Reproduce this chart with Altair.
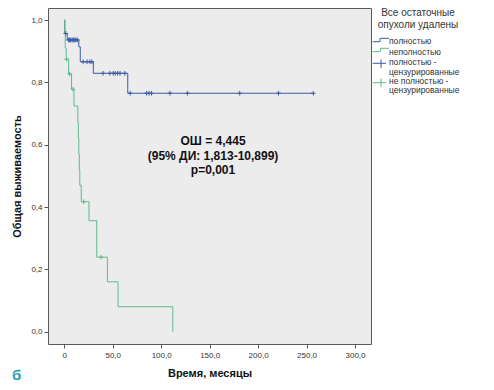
import altair as alt
import pandas as pd

# ---- data ----
groups = ["полностью", "неполностью"]
colors = ["#3b5ca8", "#5cbb8c"]

full_t = [0, 0.5, 3, 15, 16.5, 30, 65.5, 257]
full_s = [1.0, 0.957, 0.936, 0.914, 0.866, 0.829, 0.765, 0.765]

part_t = [0, 0.5, 1, 2, 4.5, 7.5, 10, 14, 14.5, 15, 15.5, 16, 17.5, 25.5, 33.5, 44.5, 55.5, 112]
part_s = [1.0, 0.955, 0.91, 0.874, 0.827, 0.778, 0.724, 0.67, 0.62, 0.57, 0.52, 0.47, 0.417,
          0.356, 0.239, 0.16, 0.08, 0.0]

full_cens_t = [1.5, 4.5, 5.5, 6.5, 8, 9, 10, 11, 12, 13.5,
               19.5, 23.5, 26.5, 28.5,
               40, 47, 50.5, 52.5, 55, 57.5, 62.5,
               68, 85, 87.5, 90, 109, 127, 181, 221, 257]
full_cens_s = [0.957] + [0.936] * 9 + [0.866] * 4 + [0.829] * 7 + [0.765] * 9

part_cens_t = [2.4, 5.5, 9, 20, 38]
part_cens_s = [0.874, 0.827, 0.778, 0.417, 0.239]

x_ticks = [0, 50, 100, 150, 200, 250, 300]
y_ticks = [0, 0.2, 0.4, 0.6, 0.8, 1.0]

ann_lines = ["ОШ = 4,445", "(95% ДИ: 1,813-10,899)", "p=0,001"]
ann_t = 153.5
ann_s = [0.612, 0.564, 0.519]

legend_title = ["Все остаточные", "опухоли удалены"]
legend_labels = ["полностью", "неполностью", "полностью -", "цензурированные",
                 "не полностью -", "цензурированные"]

# ---- tables ----
curves = pd.concat([
    pd.DataFrame({"t": full_t, "s": full_s, "g": groups[0]}),
    pd.DataFrame({"t": part_t, "s": part_s, "g": groups[1]}),
])
cens = pd.concat([
    pd.DataFrame({"t": full_cens_t, "s": full_cens_s, "g": groups[0]}),
    pd.DataFrame({"t": part_cens_t, "s": part_cens_s, "g": groups[1]}),
])
ann = pd.DataFrame({"t": [ann_t] * 3, "s": ann_s, "txt": ann_lines})

FONT = "Liberation Sans"
W, H = 323, 336

xs = alt.Scale(domain=[-16.8, 316.5], nice=False, zero=False)
ys = alt.Scale(domain=[-0.0395, 1.0385], nice=False, zero=False)
cs = alt.Scale(domain=groups, range=colors)

x_enc = alt.X("t:Q", scale=xs, title="Время, месяцы",
              axis=alt.Axis(values=x_ticks,
                            labelExpr="datum.value == 0 ? '0' : replace(format(datum.value, '.1f'), '.', ',')",
                            titlePadding=8, labelPadding=3))
y_enc = alt.Y("s:Q", scale=ys, title="Общая выживаемость",
              axis=alt.Axis(values=y_ticks,
                            labelExpr="replace(format(datum.value, '.1f'), '.', ',')",
                            titlePadding=8, labelPadding=2))

lines = alt.Chart(curves).mark_line(interpolate="step-after", strokeWidth=1).encode(
    x=x_enc, y=y_enc,
    color=alt.Color("g:N", scale=cs, legend=None),
    order=alt.Order("t:Q"),
    detail="g:N",
)

ticks = alt.Chart(cens).mark_point(shape="M-1,0H1M0,-1V1", size=22, filled=False,
                                   strokeWidth=1, opacity=1).encode(
    x=alt.X("t:Q", scale=xs), y=alt.Y("s:Q", scale=ys),
    color=alt.Color("g:N", scale=cs, legend=None),
)

annot = alt.Chart(ann).mark_text(font=FONT, fontSize=12, fontWeight="bold",
                                 color="#111", align="center", baseline="middle").encode(
    x=alt.X("t:Q", scale=xs), y=alt.Y("s:Q", scale=ys), text="txt:N",
)

layers = [lines, ticks, annot]


def txt(s, x, y, size=8.5, align="left", color="#333", weight="normal"):
    return alt.Chart(pd.DataFrame({"a": [0]})).mark_text(
        text=s, font=FONT, fontSize=size, align=align, baseline="middle",
        color=color, fontWeight=weight).encode(x=alt.value(x), y=alt.value(y))


def seg(x1, y1, x2, y2, color):
    return alt.Chart(pd.DataFrame({"a": [0]})).mark_rule(color=color, strokeWidth=1).encode(
        x=alt.value(x1), x2=alt.value(x2), y=alt.value(y1), y2=alt.value(y2))


# legend (outside the plot, right side)
layers += [txt(legend_title[0], 370, 5, size=10, align="center"),
           txt(legend_title[1], 370, 16.5, size=10, align="center")]
label_y = [33.3, 44, 54, 63.5, 73, 82]
for lab, yy in zip(legend_labels, label_y):
    layers.append(txt(lab, 341, yy))
# step symbols
layers += [seg(324.7, 33.7, 332, 33.7, colors[0]), seg(332, 33.7, 332, 30.3, colors[0]),
           seg(332, 30.3, 341, 30.3, colors[0]),
           seg(324.7, 43.7, 332.5, 43.7, colors[1]), seg(332.5, 43.7, 332.5, 40.3, colors[1]),
           seg(332.5, 40.3, 341, 40.3, colors[1])]
# censor symbols
layers += [seg(324.7, 55.3, 338, 55.3, colors[0]), seg(333, 51.5, 333, 60, colors[0]),
           seg(324.7, 74.7, 338, 74.7, colors[1]), seg(333, 70.5, 333, 79, colors[1])]
# panel letter
layers.append(txt("б", -36, 367, size=15, align="left", color="#2a9db5", weight="bold"))

chart = alt.layer(*layers).properties(
    width=W, height=H,
    autosize=alt.AutoSizeParams(type="none"),
    padding={"left": 40, "top": 0, "right": 112, "bottom": 38},
    background="white",
).configure_view(
    stroke="#5a5a5a", strokeWidth=1, fill="#ececec"
).configure_axis(
    grid=False, domain=False, tickColor="#555", tickSize=4,
    labelFont=FONT, labelFontSize=8, labelColor="#333",
    titleFont=FONT, titleFontSize=11, titleFontWeight="bold", titleColor="#111",
)

chart.save("out.html", embed_options={"renderer": "svg", "actions": False})
